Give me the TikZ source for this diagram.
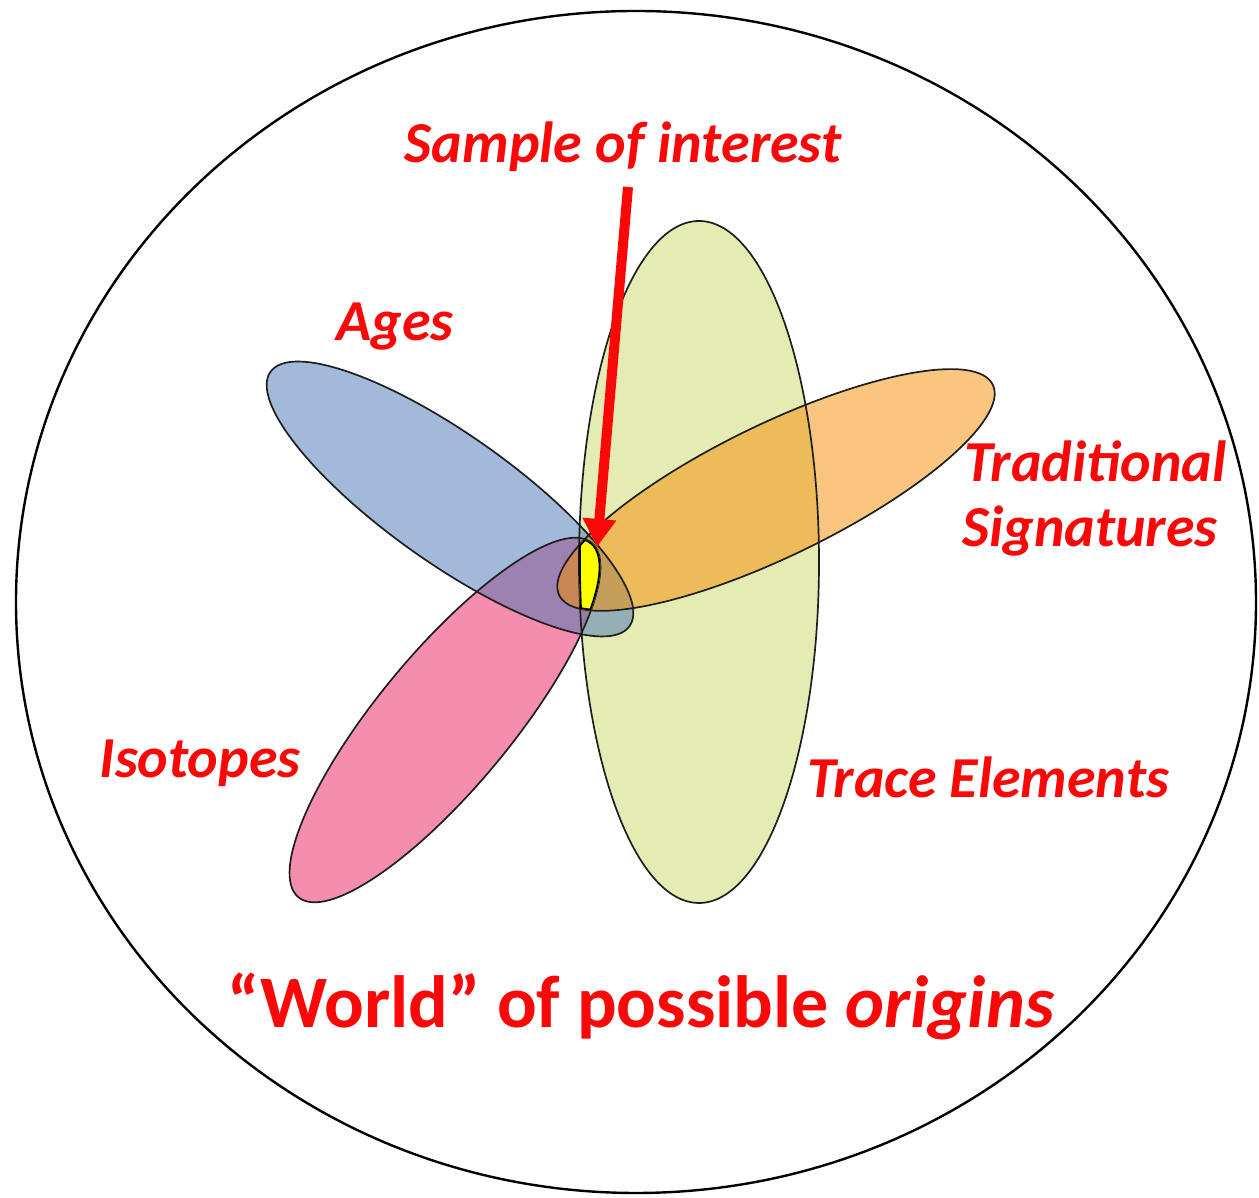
\documentclass[tikz,border=0pt]{standalone}
\usepackage{fontspec}
\setmainfont{Carlito}
\usetikzlibrary{arrows.meta}
\definecolor{cblue}{RGB}{71,117,181}
\definecolor{cpink}{RGB}{237,31,95}
\definecolor{cgreen}{RGB}{205,219,105}
\definecolor{corange}{RGB}{245,141,0}
\definecolor{cyell}{RGB}{255,255,0}
\definecolor{cred}{RGB}{250,8,8}
\definecolor{cline}{RGB}{30,30,30}
\newcommand\pathG{(699,636) ellipse [x radius=120, y radius=341]}
\newcommand\pathP{(445,478) ellipse [x radius=230, y radius=67]}
\newcommand\pathB{(450,699) ellipse [x radius=220, y radius=64]}
\newcommand\pathO{(776,708) ellipse [x radius=241, y radius=66]}
\begin{document}
\begin{tikzpicture}[x=1pt,y=1pt,
  rotP/.style={rotate around={50.4:(445,478)}},
  rotB/.style={rotate around={-35.3:(450,699)}},
  rotO/.style={rotate around={25.9:(776,708)}},
  petal/.style={fill opacity=0.5},
  outline/.style={draw=cline, line width=1.7pt},
  lbl/.style={text=cred, font=\fontsize{58}{62}\selectfont\bfseries\itshape, inner sep=0pt},
  pointer/.style={draw=cred, line width=10pt, -{Triangle[width=32pt,length=28pt]}}
]
\useasboundingbox (0,0) rectangle (1259,1198);
% world
\draw[line width=2.4pt, fill=white] (636,596) ellipse [x radius=620, y radius=591];
% petals (fills)
\fill[petal, cgreen] \pathG;
\fill[petal, cpink, rotP] \pathP;
\fill[petal, cblue, rotB] \pathB;
\fill[petal, corange, rotO] \pathO;
% outlines
\draw[outline] \pathG;
\draw[outline, rotP] \pathP;
\draw[outline, rotB] \pathB;
\draw[outline, rotO] \pathO;
% sample of interest = intersection of all four
\begin{scope}
  \clip \pathG;
  \clip[rotP] \pathP;
  \clip[rotB] \pathB;
  \clip[rotO] \pathO;
  \fill[cyell] (500,500) rectangle (700,700);
  \draw[draw=black, line width=3.6pt] \pathG;
  \draw[draw=black, line width=3.6pt, rotP] \pathP;
  \draw[draw=black, line width=3.6pt, rotB] \pathB;
  \draw[draw=black, line width=3.6pt, rotO] \pathO;
\end{scope}
% labels
\node[lbl, anchor=base] (soi) at (623,1035) {Sample of interest};
\node[lbl, anchor=base] (ages) at (395,857) {Ages};
\node[lbl, anchor=base west] (trad) at (964,716) {Traditional};
\node[lbl, anchor=base west] (sig) at (962,651) {Signatures};
\node[lbl, anchor=base] (iso) at (200,420) {Isotopes};
\node[lbl, anchor=base] (trace) at (988,400) {Trace Elements};
\node[text=cred, font=\fontsize{74}{78}\selectfont\bfseries, inner sep=0pt, anchor=base] (world) at (641,170) {“World” of possible \textit{origins}};
% arrow
\coordinate (arrowstart) at (628,1011);
\coordinate (sample) at (597,651);
\draw[pointer] (arrowstart) -- (sample);
\end{tikzpicture}
\end{document}
